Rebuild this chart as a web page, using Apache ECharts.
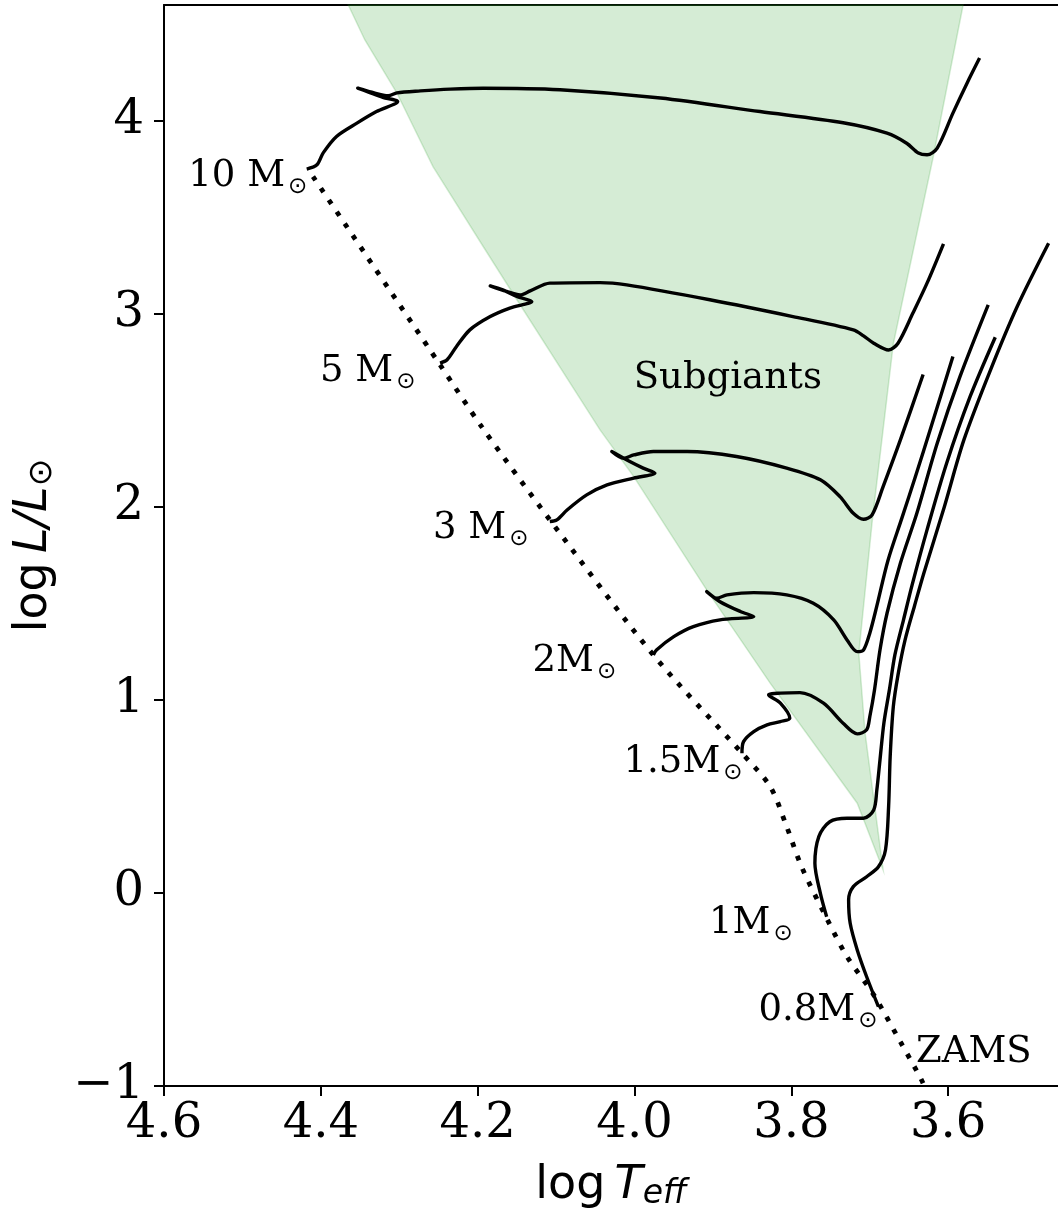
<!DOCTYPE html>
<html>
<head>
<meta charset="utf-8">
<script src="https://cdn.jsdelivr.net/npm/echarts@6/dist/echarts.min.js"></script>
<style>html,body{margin:0;padding:0;background:#fff}#c{width:1058px;height:1218px}</style>
</head>
<body>
<div id="c"></div>
<script>
// ---- tick values ----
const xTicks = [4.6, 4.4, 4.2, 4.0, 3.8, 3.6];
const yTicks = [-1, 0, 1, 2, 3, 4];

// ---- evolutionary tracks [logTeff, logL] ----
const track10 = [[4.418,3.750],[4.405,3.772],[4.397,3.834],[4.380,3.919],[4.354,3.988],[4.329,4.048],[4.302,4.100],[4.321,4.122],[4.340,4.150],[4.353,4.169],[4.335,4.148],[4.314,4.130],[4.303,4.145],[4.273,4.155],[4.235,4.164],[4.193,4.169],[4.095,4.161],[3.967,4.118],[3.840,4.048],[3.734,3.990],[3.678,3.936],[3.653,3.884],[3.638,3.833],[3.627,3.824],[3.614,3.859],[3.594,4.040],[3.576,4.195],[3.560,4.325]];
const track5 = [[4.248,2.745],[4.239,2.762],[4.227,2.831],[4.210,2.917],[4.184,2.986],[4.159,3.030],[4.131,3.064],[4.150,3.090],[4.168,3.124],[4.184,3.145],[4.163,3.116],[4.146,3.098],[4.133,3.119],[4.108,3.159],[4.044,3.162],[4.010,3.150],[3.904,3.073],[3.798,2.986],[3.721,2.917],[3.708,2.886],[3.695,2.848],[3.676,2.813],[3.664,2.848],[3.645,3.004],[3.627,3.159],[3.606,3.363]];
const track3 = [[4.108,1.924],[4.099,1.933],[4.086,1.984],[4.061,2.062],[4.035,2.114],[4.001,2.149],[3.974,2.175],[3.989,2.201],[4.006,2.235],[4.029,2.287],[4.014,2.252],[4.001,2.269],[3.976,2.287],[3.933,2.287],[3.870,2.261],[3.806,2.201],[3.763,2.140],[3.738,2.053],[3.721,1.967],[3.708,1.936],[3.697,1.959],[3.683,2.105],[3.661,2.347],[3.632,2.686]];
const track2 = [[3.976,1.233],[3.972,1.259],[3.950,1.328],[3.925,1.380],[3.891,1.415],[3.848,1.432],[3.865,1.458],[3.891,1.509],[3.908,1.561],[3.895,1.527],[3.882,1.544],[3.848,1.556],[3.806,1.544],[3.772,1.501],[3.746,1.415],[3.729,1.311],[3.716,1.250],[3.708,1.259],[3.700,1.346],[3.691,1.487],[3.677,1.720],[3.659,1.943],[3.642,2.155],[3.621,2.425],[3.594,2.779]];
const track15 = [[3.863,0.724],[3.861,0.784],[3.848,0.836],[3.831,0.871],[3.814,0.888],[3.802,0.905],[3.814,0.983],[3.829,1.026],[3.814,1.035],[3.789,1.038],[3.759,0.983],[3.734,0.879],[3.716,0.824],[3.704,0.845],[3.700,0.913],[3.694,1.052],[3.687,1.259],[3.678,1.449],[3.661,1.708],[3.640,1.967],[3.614,2.330],[3.585,2.675],[3.549,3.047]];
const track1 = [[3.755,-0.123],[3.763,-0.002],[3.770,0.154],[3.765,0.292],[3.751,0.369],[3.729,0.387],[3.708,0.387],[3.695,0.430],[3.691,0.534],[3.687,0.689],[3.682,0.881],[3.675,1.052],[3.668,1.233],[3.657,1.415],[3.646,1.596],[3.627,1.881],[3.602,2.226],[3.572,2.572],[3.540,2.879]];
const track08 = [[3.689,-0.589],[3.704,-0.434],[3.716,-0.295],[3.725,-0.157],[3.727,-0.036],[3.721,0.033],[3.704,0.084],[3.689,0.136],[3.680,0.223],[3.676,0.447],[3.674,0.706],[3.670,0.965],[3.664,1.130],[3.655,1.311],[3.643,1.487],[3.631,1.658],[3.605,2.000],[3.580,2.347],[3.546,2.710],[3.512,3.038],[3.472,3.366]];

// ---- zero-age main sequence ----
const zams = [[4.410,3.711],[4.248,2.736],[4.195,2.416],[4.108,1.933],[3.976,1.233],[3.863,0.724],[3.827,0.551],[3.806,0.344],[3.787,0.136],[3.755,-0.131],[3.729,-0.330],[3.695,-0.528],[3.661,-0.771],[3.634,-0.969],[3.628,-1.03]];

// ---- subgiant region outline ----
const subgiantRegion = [[4.365,4.60],[4.344,4.420],[4.303,4.144],[4.257,3.763],[4.193,3.349],[4.150,3.073],[4.044,2.399],[4.001,2.157],[3.908,1.570],[3.827,1.087],[3.716,0.465],[3.683,0.119],[3.706,0.829],[3.714,1.242],[3.697,1.922],[3.670,2.845],[3.619,3.815],[3.581,4.60]];

// ---- annotations ----
const massNames = ['10 M', '5 M', '3 M', '2M', '1.5M', '1M', '0.8M'];
const massLabelPos = [[4.569,3.646],[4.401,2.637],[4.257,1.820],[4.130,1.135],[4.014,0.611],[3.905,-0.226],[3.842,-0.677]];
const plainNames = ['Subgiants', 'ZAMS'];
const plainLabelPos = [[4.001,2.597],[3.641,-0.891]];

const tracks = [track10, track5, track3, track2, track15, track1, track08];

const SERIF = "'DejaVu Serif', serif";
const SANS = "'DejaVu Sans', sans-serif";
const LBL = 37;
const BASE = 0.346 * LBL; // em-middle to alphabetic baseline

const chart = echarts.init(document.getElementById('c'), null, {renderer: 'canvas'});

const series = [];
series.push({
  type: 'custom', coordinateSystem: 'cartesian2d', silent: true, z: 1,
  data: [[4.0, 2.0]],
  renderItem: (params, api) => ({
    type: 'polygon',
    shape: {points: subgiantRegion.map(p => api.coord(p))},
    style: {fill: 'rgba(44,160,44,0.2)', stroke: 'rgba(44,160,44,0.2)', lineWidth: 1.5}
  })
});
series.push({
  type: 'line', data: zams, symbol: 'none', smooth: 0.3, z: 3, silent: true,
  lineStyle: {color: '#000', width: 4.8, type: [4.8, 9.4], cap: 'butt'}
});
tracks.forEach(t => series.push({
  type: 'line', data: t, symbol: 'none', smooth: 0.3, z: 4, silent: true,
  lineStyle: {color: '#000', width: 3.4, join: 'round'}
}));
series.push({
  type: 'custom', coordinateSystem: 'cartesian2d', silent: true, z: 10,
  data: massLabelPos,
  renderItem: (params, api) => {
    const p = api.coord([api.value(0), api.value(1)]);
    return {
      type: 'text', x: p[0], y: p[1] - BASE,
      style: {
        text: '{a|' + massNames[params.dataIndex] + '}{s|\u2299}',
        fill: '#000', align: 'left', textAlign: 'left', verticalAlign: 'middle', textVerticalAlign: 'middle',
        rich: {
          a: {fontFamily: SERIF, fontSize: LBL, lineHeight: 44, fill: '#000', color: '#000'},
          s: {fontFamily: SANS, fontSize: 23, lineHeight: 24, verticalAlign: 'bottom', padding: [0, 0, 0, 3], fill: '#000', color: '#000'}
        }
      }
    };
  }
});
series.push({
  type: 'custom', coordinateSystem: 'cartesian2d', silent: true, z: 10,
  data: plainLabelPos,
  renderItem: (params, api) => {
    const p = api.coord([api.value(0), api.value(1)]);
    return {
      type: 'text', x: p[0], y: p[1] - BASE,
      style: {
        text: plainNames[params.dataIndex], fill: '#000',
        fontFamily: SERIF, fontSize: LBL, font: LBL + 'px ' + SERIF,
        align: 'left', textAlign: 'left', verticalAlign: 'middle', textVerticalAlign: 'middle'
      }
    };
  }
});

const axisLineStyle = {color: '#000', width: 2};

chart.setOption({
  animation: false,
  backgroundColor: '#fff',
  grid: {left: 164, right: 0, top: 5, bottom: 132, containLabel: false},
  xAxis: [{
    type: 'value', min: 3.46, max: 4.6, inverse: true, position: 'bottom',
    axisLine: {show: true, onZero: false, lineStyle: axisLineStyle},
    axisTick: {show: true, length: 10, inside: false, lineStyle: axisLineStyle, customValues: xTicks},
    axisLabel: {customValues: xTicks, formatter: v => Number(v).toFixed(1), fontFamily: SERIF, fontSize: 48, color: '#000', margin: 15},
    splitLine: {show: false},
    name: '{n|log\u2009}{i|T}{sub|eff}', nameLocation: 'middle', nameGap: 75,
    nameTextStyle: {
      color: '#000', fontFamily: SANS, fontSize: 46,
      rich: {
        n: {fontFamily: SANS, fontSize: 46, lineHeight: 50, color: '#000'},
        i: {fontFamily: SANS, fontSize: 46, lineHeight: 50, fontStyle: 'italic', color: '#000'},
        sub: {fontFamily: SANS, fontSize: 33, lineHeight: 26, fontStyle: 'italic', verticalAlign: 'bottom', color: '#000'}
      }
    }
  }, {
    type: 'value', min: 3.46, max: 4.6, inverse: true, position: 'top',
    axisLine: {show: true, onZero: false, lineStyle: axisLineStyle},
    axisTick: {show: false}, axisLabel: {show: false}, splitLine: {show: false}
  }],
  yAxis: {
    type: 'value', min: -1, max: 4.6,
    axisLine: {show: true, onZero: false, lineStyle: axisLineStyle},
    axisTick: {show: true, length: 10, inside: false, lineStyle: axisLineStyle, customValues: yTicks},
    axisLabel: {customValues: yTicks, formatter: v => (v < 0 ? '\u2212' + Math.abs(v) : String(v)), fontFamily: SERIF, fontSize: 48, color: '#000', margin: 20},
    splitLine: {show: false},
    name: '{n|log\u2009}{i|L/L}{sub|\u2299}', nameLocation: 'middle', nameGap: 105, nameRotate: 90,
    nameTextStyle: {
      color: '#000', fontFamily: SANS, fontSize: 46,
      rich: {
        n: {fontFamily: SANS, fontSize: 46, lineHeight: 50, color: '#000'},
        i: {fontFamily: SANS, fontSize: 46, lineHeight: 50, fontStyle: 'italic', color: '#000'},
        sub: {fontFamily: SANS, fontSize: 33, lineHeight: 26, verticalAlign: 'bottom', color: '#000'}
      }
    }
  },
  series: series
});
</script>
</body>
</html>
